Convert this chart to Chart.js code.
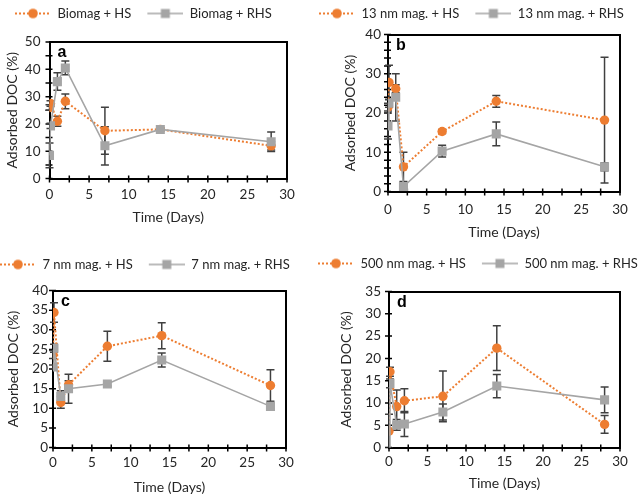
<!DOCTYPE html>
<html><head><meta charset="utf-8">
<script src="https://cdn.jsdelivr.net/npm/chart.js@4/dist/chart.umd.min.js"></script>
<style>
html,body{margin:0;padding:0;background:#fff;width:638px;height:495px;overflow:hidden;position:relative}
canvas{position:absolute}
</style></head><body>
<canvas id="ca"></canvas><canvas id="cb"></canvas><canvas id="cc"></canvas><canvas id="cd"></canvas>
<script>
// ---- data ----
const days = [0, 0.125, 1, 2, 7, 14, 28];
const panelLetters = ['a', 'b', 'c', 'd'];
const hsLabels = ['Biomag + HS', '13 nm mag. + HS', '7 nm mag. + HS', '500 nm mag. + HS'];
const rhsLabels = ['Biomag + RHS', '13 nm mag. + RHS', '7 nm mag. + RHS', '500 nm mag. + RHS'];
const xTitle = 'Time (Days)';
const yTitle = 'Adsorbed DOC (%)';

const aHS = [26, 27.5, 21, 28.3, 17.5, 18, 12];
const aHSerr = [1, 1, 1.8, 2.7, 8.6, 0.5, 1.5];
const aRHS = [8.5, 19.3, 35.5, 40.5, 12, 18, 13.5];
const aRHSerr = [4.5, 1, 3.2, 2.5, 7, 0.5, 3.6];

const bHS = [21.5, 27.8, 26.2, 6.3, 15.3, 23, 18.2];
const bHSerr = [1, 4.4, 1, 3.7, 0.5, 1.5, 16];
const bRHS = [16.7, 22.5, 24, 1.3, 10.3, 14.7, 6.3];
const bRHSerr = [3.3, 1, 6, 1, 1.5, 3, 1];

const cHS = [23.7, 34.4, 11.5, 16, 25.8, 28.5, 15.8];
const cHSerr = [1, 2.5, 1.5, 1, 3.8, 3.3, 4];
const cRHS = [20.5, 25.3, 13, 15, 16.2, 22.3, 10.5];
const cRHSerr = [0.5, 1, 1.5, 3.7, 0.5, 1.8, 0.7];

const dHS = [3.7, 17, 9.2, 10.5, 11.5, 22.3, 5.2];
const dHSerr = [3.8, 1, 3.7, 2.7, 5.7, 5, 2];
const dRHS = [0, 14.4, 5.1, 5.3, 8, 13.8, 10.7];
const dRHSerr = [0, 1, 1.2, 2.8, 1.8, 2.6, 2.9];

const xMin = 0, xMax = 30, xStep = 2.5, xLabelEvery = 5;
const yMaxes = [50, 40, 40, 35];
const ySteps = [5, 2, 5, 5];
const yLabelEvery = [10, 10, 5, 5];

// ---- styling / layout ----
const ORANGE = '#ED7D31', GRAY = '#A5A5A5', ERR = '#404040', TXT = '#262626';
const FONT = 'Lato';
const boxes = [
  {id:'ca', left:49.5, right:287, top:42, bottom:179, legX:15, legY:13.5, xTitleY:218, yTitleX:12, xPad:7.9, yPad:9},
  {id:'cb', left:388, right:620, top:34, bottom:191, legX:319, legY:13, xTitleY:232, yTitleX:350, xPad:9.9, yPad:7},
  {id:'cc', left:53, right:286, top:290, bottom:447, legX:0, legY:264, xTitleY:487, yTitleX:13, xPad:6.9, yPad:5},
  {id:'cd', left:389, right:620, top:291, bottom:447, legX:318, legY:263, xTitleY:483, yTitleX:346, xPad:5.6, yPad:8}
];
const seriesHS = [[aHS, aHSerr], [bHS, bHSerr], [cHS, cHSerr], [dHS, dHSerr]];
const seriesRHS = [[aRHS, aRHSerr], [bRHS, bRHSerr], [cRHS, cRHSerr], [dRHS, dRHSerr]];

const LEG_PAD = 10, LEG_BLANK = 6, ICON_W = 36, LEG_FS = 13;

function legendIcon(kind) {
  const c = document.createElement('canvas');
  c.width = LEG_BLANK + ICON_W; c.height = 12;
  const g = c.getContext('2d');
  if (kind === 'hs') { g.strokeStyle = ORANGE; g.lineWidth = 2; g.setLineDash([2, 2]); }
  else { g.strokeStyle = GRAY; g.lineWidth = 1.6; }
  g.beginPath(); g.moveTo(LEG_BLANK, 6); g.lineTo(LEG_BLANK + ICON_W, 6); g.stroke();
  g.setLineDash([]);
  const cx = LEG_BLANK + ICON_W / 2;
  if (kind === 'hs') { g.fillStyle = ORANGE; g.beginPath(); g.arc(cx, 6, 4.8, 0, Math.PI * 2); g.fill(); }
  else { g.fillStyle = GRAY; g.fillRect(cx - 4.5, 1.5, 9, 9); }
  return c;
}

const errorBars = {
  id: 'errorBars',
  beforeDatasetsDraw(chart) {
    const ctx = chart.ctx, ys = chart.scales.y, a = chart.chartArea;
    ctx.save();
    ctx.beginPath(); ctx.rect(a.left - 6, a.top, a.right - a.left + 12, a.bottom - a.top); ctx.clip();
    ctx.strokeStyle = ERR; ctx.lineWidth = 1.5;
    chart.data.datasets.forEach((ds, i) => {
      const meta = chart.getDatasetMeta(i);
      meta.data.forEach((pt, j) => {
        const v = ds.data[j].y, e = ds.errors[j];
        if (v == null || !e) return;
        const x = pt.x, y1 = ys.getPixelForValue(v + e), y2 = ys.getPixelForValue(v - e);
        ctx.beginPath();
        ctx.moveTo(x, y1); ctx.lineTo(x, y2);
        ctx.moveTo(x - 4, y1); ctx.lineTo(x + 4, y1);
        ctx.moveTo(x - 4, y2); ctx.lineTo(x + 4, y2);
        ctx.stroke();
      });
    });
    ctx.restore();
  }
};

const tickMarks = {
  id: 'tickMarks',
  beforeDatasetsDraw(chart) {
    const ctx = chart.ctx, xs = chart.scales.x, ys = chart.scales.y, a = chart.chartArea;
    ctx.save(); ctx.strokeStyle = '#000'; ctx.lineWidth = 1.5; ctx.beginPath();
    xs.ticks.forEach(t => { const px = xs.getPixelForValue(t.value); ctx.moveTo(px, a.bottom - 3); ctx.lineTo(px, a.bottom + 4); });
    ys.ticks.forEach(t => { const py = ys.getPixelForValue(t.value); ctx.moveTo(a.left - 4, py); ctx.lineTo(a.left + 3, py); });
    ctx.stroke(); ctx.restore();
  }
};

const panelLetter = {
  id: 'panelLetter',
  afterDraw(chart, args, opts) {
    const ctx = chart.ctx, a = chart.chartArea;
    ctx.save(); ctx.fillStyle = '#000'; ctx.font = 'bold 16px "Liberation Sans", Arial, sans-serif';
    ctx.textBaseline = 'middle'; ctx.textAlign = 'left';
    ctx.fillText(opts.text, a.left + 8, a.top + 11);
    ctx.restore();
  }
};

boxes.forEach((b, k) => {
  const L = b.legX - LEG_PAD - LEG_BLANK;
  const T = b.legY - LEG_PAD - LEG_FS / 2;
  const W = 440;
  const legH = LEG_FS + LEG_PAD + 10;
  const xAxisH = b.xTitleY + 8.4 - b.bottom;
  const H = b.bottom + xAxisH - T;
  const cv = document.getElementById(b.id);
  cv.width = W; cv.height = Math.round(H);
  cv.style.left = L + 'px'; cv.style.top = T + 'px';
  cv.style.width = W + 'px'; cv.style.height = Math.round(H) + 'px';

  const mk = (arr) => days.map((d, i) => ({x: d, y: arr[i]}));
  const hs = seriesHS[k], rhs = seriesRHS[k];
  const icons = [legendIcon('hs'), legendIcon('rhs')];

  new Chart(cv, {
    type: 'line',
    data: {
      datasets: [
        {label: hsLabels[k], data: mk(hs[0]), errors: hs[1], order: 1,
         borderColor: ORANGE, backgroundColor: ORANGE, borderWidth: 2, borderDash: [2, 2],
         pointStyle: 'circle', pointRadius: 4.7, pointBorderWidth: 0, pointBackgroundColor: ORANGE, tension: 0},
        {label: rhsLabels[k], data: mk(rhs[0]), errors: rhs[1], order: 0,
         borderColor: GRAY, backgroundColor: GRAY, borderWidth: 1.6,
         pointStyle: 'rect', pointBorderWidth: 0, pointBackgroundColor: GRAY, tension: 0,
         pointRadius: ctx => (ctx.raw && ctx.raw.y <= 0 ? 0 : 6.4)}
      ]
    },
    options: {
      responsive: false, animation: false, devicePixelRatio: 1,
      layout: {padding: 0},
      plugins: {
        tooltip: {enabled: false},
        panelLetter: {text: panelLetters[k]},
        legend: {
          display: true, position: 'top', align: 'start',
          labels: {
            usePointStyle: true, pointStyleWidth: LEG_BLANK + ICON_W, padding: LEG_PAD,
            color: TXT, font: {family: FONT, size: LEG_FS},
            generateLabels: (chart) => chart.data.datasets.map((ds, i) => ({
              text: ds.label, pointStyle: icons[i], fillStyle: ds.borderColor, strokeStyle: ds.borderColor,
              lineWidth: 0, hidden: false, datasetIndex: i, fontColor: TXT
            }))
          }
        }
      },
      scales: {
        x: {
          type: 'linear', position: 'bottom', min: xMin, max: xMax,
          afterFit: s => { s.height = xAxisH; },
          grid: {display: false, drawTicks: false},
          border: {display: true, color: '#000', width: 2},
          ticks: {stepSize: xStep, autoSkip: false, maxRotation: 0, padding: b.xPad, color: TXT,
                  font: {family: FONT, size: 13.5},
                  callback: v => (Math.abs(v % xLabelEvery) < 1e-9 ? v : '')},
          title: {display: true, text: xTitle, color: TXT, font: {family: FONT, size: 14}, padding: {top: 0, bottom: 0}}
        },
        y: {
          type: 'linear', position: 'left', min: 0, max: yMaxes[k],
          afterFit: s => { s.width = b.left - L; },
          grid: {display: false, drawTicks: false},
          border: {display: true, color: '#000', width: 2},
          ticks: {stepSize: ySteps[k], autoSkip: false, padding: b.yPad, color: TXT,
                  font: {family: FONT, size: 13.5},
                  callback: v => (Math.abs(v % yLabelEvery[k]) < 1e-9 ? v : '')},
          title: {display: true, text: yTitle, color: TXT, font: {family: FONT, size: 14},
                  padding: {top: b.yTitleX - L - 8.4, bottom: 0}}
        },
        x2: {
          type: 'linear', position: 'top', display: true,
          afterFit: s => { s.height = b.top - T - legH; },
          grid: {display: false, drawTicks: false}, ticks: {display: false},
          border: {display: true, color: '#000', width: 2}
        },
        y2: {
          type: 'linear', position: 'right', display: true,
          afterFit: s => { s.width = L + W - b.right; },
          grid: {display: false, drawTicks: false}, ticks: {display: false},
          border: {display: true, color: '#000', width: 2}
        }
      }
    },
    plugins: [tickMarks, errorBars, panelLetter]
  });
});
</script>
</body></html>
